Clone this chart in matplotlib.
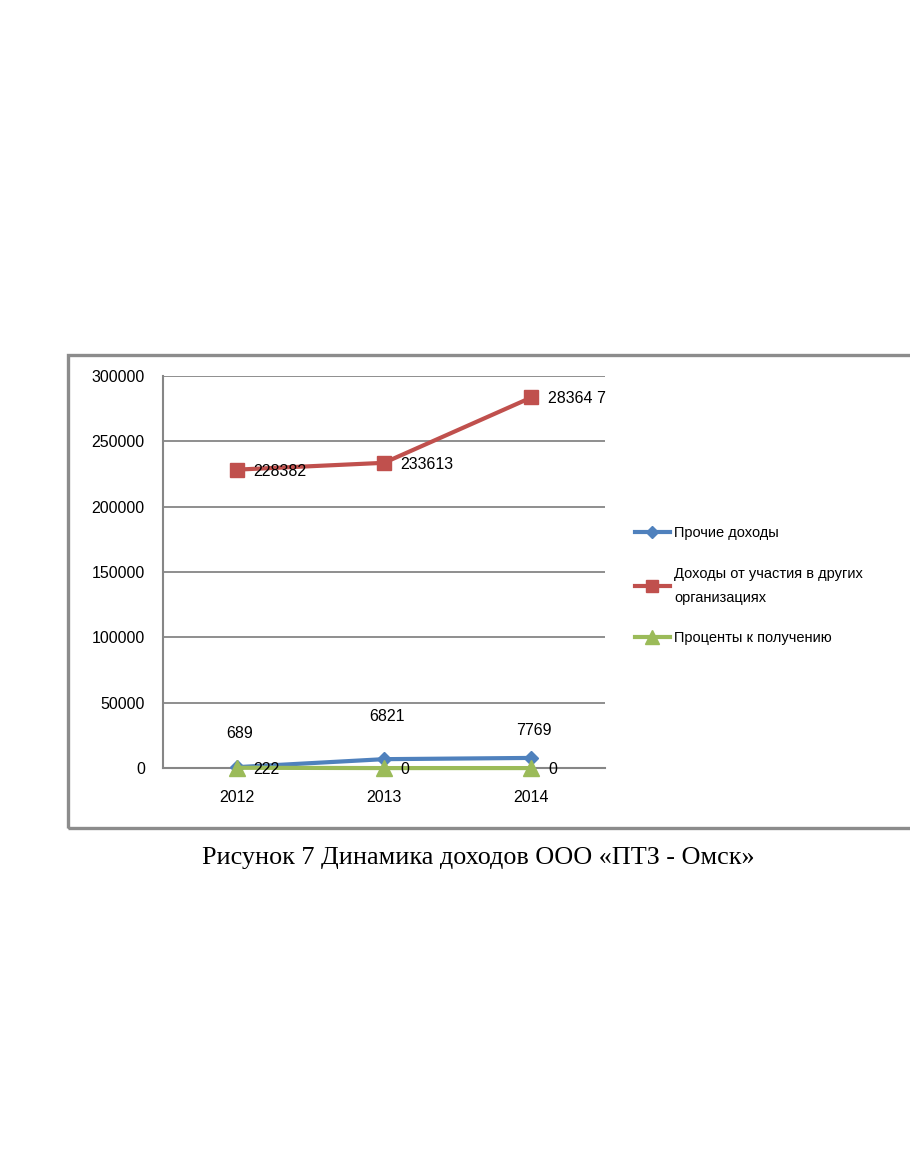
import matplotlib
matplotlib.use("Agg")
import matplotlib.pyplot as plt
from matplotlib.patches import Rectangle

years = ["2012", "2013", "2014"]
other_income = [689, 6821, 7769]
participation_income = [228382, 233613, 283647]
interest_income = [222, 0, 0]

series_names = [
    "Прочие доходы",
    "Доходы от участия в других\nорганизациях",
    "Проценты к получению",
]
y_ticks = [0, 50000, 100000, 150000, 200000, 250000, 300000]
caption = "Рисунок 7 Динамика доходов ООО «ПТЗ - Омск»"

blue = "#4F81BD"
red = "#C0504D"
green = "#9BBB59"
grid_gray = "#868686"

plt.rcParams["font.family"] = ["Liberation Sans", "DejaVu Sans"]

fig = plt.figure(figsize=(9.1, 11.55), dpi=100)

# outer chart frame (cut off on the right like in the scan)
frame = Rectangle((0.0747, 0.283), 0.96, 0.41, transform=fig.transFigure,
                  fill=False, edgecolor="#8c8c8c", linewidth=2.4, zorder=0)
fig.patches.append(frame)

ax = fig.add_axes([0.179, 0.335, 0.486, 0.3394])
x = list(range(len(years)))

ax.plot(x, other_income, color=blue, lw=3.0, marker="D", ms=7, label=series_names[0],
        zorder=4, clip_on=False)
ax.plot(x, participation_income, color=red, lw=3.0, marker="s", ms=10, label=series_names[1],
        zorder=4, clip_on=False)
ax.plot(x, interest_income, color=green, lw=3.0, marker="^", ms=11, label=series_names[2],
        zorder=5, clip_on=False)

ax.set_xlim(-0.5, 2.5)
ax.set_ylim(0, 300000)
ax.set_yticks(y_ticks)
ax.set_yticklabels([str(v) for v in y_ticks], fontsize=11.5)
ax.set_xticks(x)
ax.set_xticklabels(years, fontsize=11.5)
ax.tick_params(length=0, pad=13, axis="y")
ax.tick_params(length=0, pad=16, axis="x")
ax.grid(axis="y", color=grid_gray, lw=1.3)
ax.set_axisbelow(True)
for side in ["top", "right"]:
    ax.spines[side].set_visible(False)
ax.spines["left"].set_color(grid_gray)
ax.spines["left"].set_linewidth(1.5)
ax.spines["bottom"].set_color(grid_gray)
ax.spines["bottom"].set_linewidth(1.5)

# data labels
for i, v in enumerate(participation_income):
    txt = str(v) if i < 2 else "28364 7"
    ax.annotate(txt, (i, v), xytext=(12, -1), textcoords="offset points",
                va="center", ha="left", fontsize=11.5, zorder=6)
other_offsets = [24, 31, 20]
for i, v in enumerate(other_income):
    ax.annotate(str(v), (i, v), xytext=(2, other_offsets[i]), textcoords="offset points",
                va="center", ha="center", fontsize=11.5)
for i, v in enumerate(interest_income):
    ax.annotate(str(v), (i, v), xytext=(12, -1), textcoords="offset points",
                va="center", ha="left", fontsize=11.5, zorder=6)

leg = ax.legend(loc="center left", bbox_to_anchor=(0.683, 0.493), bbox_transform=fig.transFigure,
                frameon=False, fontsize=10.5, handlelength=2.4, handletextpad=0.3,
                labelspacing=1.8, markerscale=0.9)
for t in leg.get_texts():
    t.set_linespacing(1.9)

fig.text(0.526, 0.257, caption, ha="center", va="center", fontsize=18.8,
         family=["Liberation Serif", "DejaVu Serif"])

fig.savefig("out.png", dpi=100)
